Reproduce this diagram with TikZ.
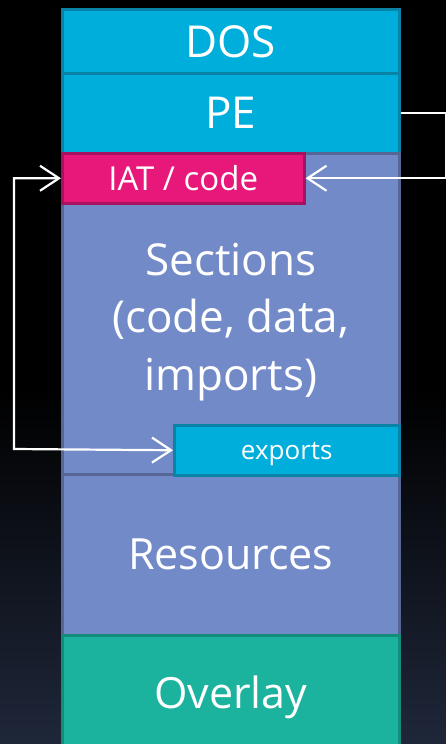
\documentclass[tikz,border=0pt]{standalone}
\usepackage{fontspec}
\setmainfont{Open Sans}
\usetikzlibrary{arrows.meta}
\definecolor{bgbot}{HTML}{3E4F75}
\definecolor{hdrfill}{HTML}{00AEDB}
\definecolor{hdrline}{HTML}{0A84A6}
\definecolor{secfill}{HTML}{728AC8}
\definecolor{secline}{HTML}{566695}
\definecolor{iatfill}{HTML}{E8177A}
\definecolor{iatline}{HTML}{A81060}
\definecolor{ovlfill}{HTML}{1BB39E}
\definecolor{ovlline}{HTML}{128C7B}
\pgfdeclareverticalshading{bgshade}{100bp}{color(0bp)=(bgbot); color(49bp)=(black); color(100bp)=(black)}
\tikzset{
  block/.style={rectangle, draw, line width=2.5pt, inner sep=0pt, text=white, anchor=north west},
  hdr/.style={block, fill=hdrfill, draw=hdrline},
  sec/.style={block, fill=secfill, draw=secline},
  iat/.style={block, fill=iatfill, draw=iatline},
  ovl/.style={block, fill=ovlfill, draw=ovlline},
  barb/.tip={Straight Barb[length=19pt,width=25pt,line width=2.2pt]},
  arr/.style={draw=white, line width=2.2pt, -barb},
  twoarr/.style={draw=white, line width=2.2pt, barb-barb},
  big/.style={font=\fontsize{44}{57.5}\selectfont},
}
\begin{document}
\begin{tikzpicture}[x=1pt, y=-1pt]
  \shade[shading=bgshade] (0,0) rectangle (446,744);
  \useasboundingbox (0,0) rectangle (446,744);
  % file layout, top to bottom
  \node[hdr, minimum width=337pt, minimum height=64pt] (dos) at (61,8) {};
  \node[hdr, minimum width=337pt, minimum height=80pt] (pe) at (61,72) {};
  \node[sec, minimum width=337pt, minimum height=321pt] (sec) at (61,152) {};
  \node[sec, minimum width=337pt, minimum height=161pt] (res) at (61,473) {};
  \node[ovl, minimum width=337pt, minimum height=120pt] (ovl) at (61,634) {};
  \node[iat, minimum width=242pt, minimum height=50pt] (iat) at (61,152) {};
  \node[hdr, minimum width=225pt, minimum height=50pt] (exp) at (173,424) {};
  % labels (yshift is on the page, so negative moves down)
  \node[big, text=white] (doslbl) at ([yshift=-1pt]dos.center) {DOS};
  \node[big, text=white] (pelbl) at (pe.center) {PE};
  \node[text=white, font=\fontsize{33}{38}\selectfont] (iatlbl) at (iat.center) {IAT / code};
  \node[big, text=white, align=center] (seclbl) at ([yshift=-8pt]sec.center) {Sections\\(code, data,\\imports)};
  \node[text=white, font=\fontsize{43}{50}\selectfont] (reslbl) at (res.center) {Resources};
  \node[text=white, font=\fontsize{43}{50}\selectfont] (ovllbl) at ([yshift=-2pt]ovl.center) {Overlay};
  \node[text=white, font=\fontsize{26}{30}\selectfont] (explbl) at ([yshift=-3.5pt]exp.center) {exports};
  % references
  \draw[arr] (pe.east) -- ++(46,0) |- (iat.east);
  \draw[twoarr] (exp.west) -- (14,449) |- (iat.west);
\end{tikzpicture}
\end{document}
